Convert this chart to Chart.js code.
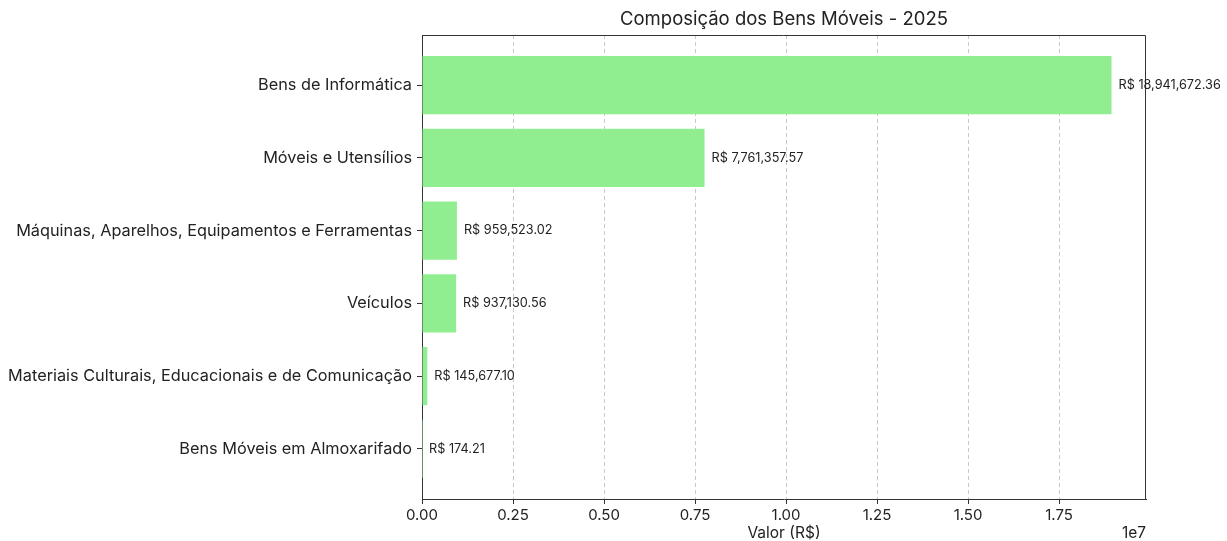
<!DOCTYPE html>
<html>
<head>
<meta charset="utf-8">
<script src="https://cdn.jsdelivr.net/npm/chart.js@4.4.0/dist/chart.umd.min.js"></script>
<style>
  html, body { margin: 0; padding: 0; background: #fff; }
  #wrap { width: 1227px; height: 541px; }
</style>
</head>
<body>
<div id="wrap"><canvas id="chart"></canvas></div>
<script>
// data
const categories = [
  'Bens de Informática',
  'Móveis e Utensílios',
  'Máquinas, Aparelhos, Equipamentos e Ferramentas',
  'Veículos',
  'Materiais Culturais, Educacionais e de Comunicação',
  'Bens Móveis em Almoxarifado'
];
const values = [18941672.36, 7761357.57, 959523.02, 937130.56, 145677.10, 174.21];
const xTicks = [0, 2500000, 5000000, 7500000, 10000000, 12500000, 15000000, 17500000];

const FONT = 'Inter, "DejaVu Sans", sans-serif';
const INK = '#222';

function brl(v) {
  return 'R$ ' + v.toLocaleString('en-US', { minimumFractionDigits: 2, maximumFractionDigits: 2 });
}

// title, axis label, offset text, value labels and the top/right spines
const extras = {
  id: 'extras',
  afterDraw(chart) {
    const ctx = chart.ctx;
    const a = chart.chartArea;
    const xs = chart.scales.x;
    const ys = chart.scales.y;
    ctx.save();
    ctx.strokeStyle = '#333';
    ctx.lineWidth = 1;
    ctx.beginPath();
    ctx.moveTo(a.left, a.top + 0.5);
    ctx.lineTo(a.right - 0.5, a.top + 0.5);
    ctx.lineTo(a.right - 0.5, a.bottom);
    ctx.stroke();

    ctx.fillStyle = INK;
    ctx.textAlign = 'center';
    ctx.textBaseline = 'middle';
    ctx.font = '18.5px ' + FONT;
    ctx.fillText('Composição dos Bens Móveis - 2025', (a.left + a.right) / 2, 19);

    ctx.font = '15.5px ' + FONT;
    ctx.fillText('Valor (R$)', (a.left + a.right) / 2, 533);
    ctx.textAlign = 'right';
    ctx.fillText('1e7', a.right, 533);

    ctx.textAlign = 'left';
    ctx.font = '12.7px ' + FONT;
    values.forEach((v, i) => {
      ctx.fillText(brl(v), xs.getPixelForValue(v) + 7, ys.getPixelForValue(i));
    });
    ctx.restore();
  }
};

new Chart(document.getElementById('chart'), {
  type: 'bar',
  data: {
    datasets: [{
      label: 'Valor',
      data: values.map((v, i) => ({ x: v, y: i })),
      backgroundColor: '#90EE90',
      borderWidth: 0,
      barPercentage: 0.8,
      categoryPercentage: 1.0
    }]
  },
  options: {
    indexAxis: 'y',
    responsive: true,
    maintainAspectRatio: false,
    animation: false,
    layout: { padding: { top: 35, right: 81, left: 0, bottom: 0 } },
    plugins: {
      legend: { display: false },
      tooltip: { enabled: false }
    },
    scales: {
      x: {
        type: 'linear',
        min: 0,
        max: values[0] * 1.05,
        afterBuildTicks: (s) => { s.ticks = xTicks.map(v => ({ value: v })); },
        afterFit: (s) => { s.height = 42; },
        ticks: {
          color: INK,
          font: { family: FONT, size: 15 },
          padding: 2,
          maxRotation: 0,
          callback: (v) => (v / 1e7).toFixed(2)
        },
        grid: {
          color: (c) => c.tick && c.tick.value === 0 ? 'rgba(0,0,0,0)' : '#c8c8c8',
          lineWidth: 1,
          tickLength: 5,
          tickColor: '#333',
          tickBorderDash: [],
          drawTicks: true
        },
        border: { display: true, color: '#333', width: 1, dash: [4, 3] }
      },
      y: {
        type: 'linear',
        reverse: true,
        offset: false,
        min: -0.69,
        max: 5.69,
        afterBuildTicks: (s) => { s.ticks = categories.map((c, i) => ({ value: i })); },
        afterFit: (s) => { s.width = 422; },
        ticks: {
          color: INK,
          font: { family: FONT, size: 16.3 },
          padding: 5,
          callback: (v) => categories[v]
        },
        grid: {
          offset: false,
          drawOnChartArea: false,
          tickLength: 5,
          tickColor: '#333'
        },
        border: { display: true, color: '#333', width: 1 }
      }
    }
  },
  plugins: [extras]
});
</script>
</body>
</html>
